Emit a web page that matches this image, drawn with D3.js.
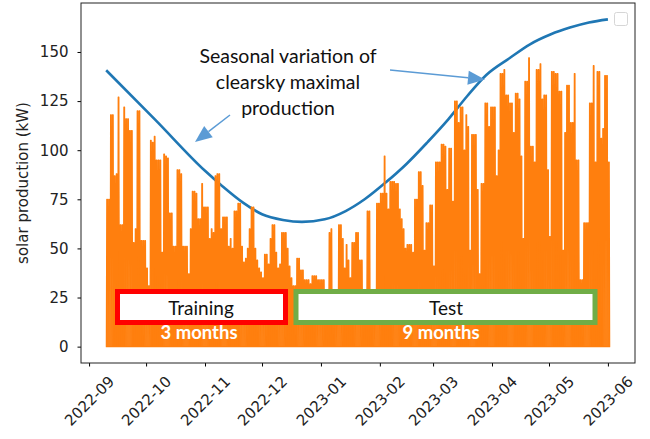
<!DOCTYPE html>
<html>
<head>
<meta charset="utf-8">
<title>solar production</title>
<script src="https://cdn.jsdelivr.net/npm/d3@7"></script>
<style>
  body { margin: 0; background: #fff; }
  svg { display: block; font-family: "DejaVu Sans", sans-serif; }
</style>
</head>
<body>
<svg id="chart" width="650" height="439"></svg>
<script>
// daily peak of the measured production (kW), one value per day starting at firstDay
var firstDay = "2022-09-10";
var dailyPeak = [
  75, 75, 118, 118, 87, 88, 127, 62, 62, 122,
  116, 116, 110, 110, 53, 60, 120, 120, 54, 54,
  54, 40, 31, 105, 104, 107, 95, 95, 95, 48,
  98, 97, 96, 68, 68, 51, 51, 90, 90, 88,
  51, 51, 51, 37, 60, 79, 79, 78, 65, 65,
  83, 71, 71, 71, 55, 60, 58, 87, 88, 88,
  60, 66, 66, 66, 51, 55, 50, 69, 69, 73,
  73, 51, 43, 45, 50, 60, 71, 71, 50, 44,
  40, 38, 35, 47, 47, 42, 55, 62, 62, 48,
  40, 42, 58, 58, 58, 50, 41, 35, 31, 31,
  45, 45, 39, 39, 34, 34, 34, 32, 36, 36,
  36, 34, 34, 34, 34, 29, 29, 58, 60, 29,
  29, 29, 62, 62, 55, 40, 52, 44, 35, 53,
  53, 58, 58, 44, 44, 29, 29, 69, 69, 29,
  29, 29, 73, 73, 78, 78, 97, 78, 70, 84,
  84, 84, 83, 83, 70, 65, 60, 50, 52, 52,
  52, 48, 75, 75, 89, 89, 82, 49, 63, 63,
  72, 72, 41, 94, 94, 94, 103, 103, 102, 80,
  101, 101, 74, 125, 125, 114, 122, 122, 100, 118,
  112, 49, 108, 108, 108, 80, 37, 83, 83, 124,
  124, 112, 122, 122, 122, 87, 100, 139, 139, 141,
  128, 128, 124, 124, 109, 129, 129, 126, 97, 55,
  135, 135, 147, 102, 102, 94, 141, 141, 144, 126,
  128, 128, 90, 56, 140, 140, 139, 139, 130, 130,
  49, 109, 133, 133, 114, 114, 139, 95, 95, 34,
  34, 63, 63, 63, 124, 124, 143, 94, 140, 140,
  106, 111, 138, 138, 94
];

// clearsky maximal production
var clearskyDates = ["2022-09-10", "2022-10-06", "2022-11-01", "2022-11-10", "2022-11-21",
  "2022-12-01", "2022-12-12", "2022-12-22", "2023-01-03", "2023-01-14", "2023-01-24",
  "2023-02-04", "2023-02-15", "2023-02-26", "2023-03-09", "2023-03-19", "2023-03-29",
  "2023-04-10", "2023-04-21", "2023-05-02", "2023-05-12", "2023-05-22", "2023-06-01"];
var clearskyValues = [140.7, 115.3, 89.5, 81.8, 73.3, 67.4, 64.5, 63.5, 64.8, 69, 75,
  83.5, 93, 104, 115.7, 127.6, 138.3, 146.7, 153.9, 159, 162.4, 165, 166.6];

var monthTicks = ["2022-09", "2022-10", "2022-11", "2022-12", "2023-01", "2023-02",
  "2023-03", "2023-04", "2023-05", "2023-06"];
var yTicks = [0, 25, 50, 75, 100, 125, 150];

var noteLines = ["Seasonal variation of", "clearsky maximal", "production"];
var splitNames = ["Training", "Test"];
var splitLengths = ["3 months", "9 months"];

var orange = "#ff7f0e", blue = "#1f77b4", arrowBlue = "#5b9bd5";

// plot frame
var plotLeft = 81, plotRight = 635, plotTop = 3, plotBottom = 363;

var parseDay = d3.utcParse("%Y-%m-%d");
var parseMonth = d3.utcParse("%Y-%m");

var start = parseDay(firstDay);
var end = d3.utcDay.offset(start, dailyPeak.length);
var pad = (end - start) * 0.05;

var x = d3.scaleUtc()
  .domain([new Date(+start - pad), new Date(+end + pad)])
  .range([plotLeft, plotRight]);

var yMax = 166.6;
var y = d3.scaleLinear()
  .domain([-yMax * 0.05, yMax * 1.05])
  .range([plotBottom, plotTop]);

var svg = d3.select("#chart");

// clearsky line
var clearPts = clearskyDates.map(function(d, i) {
  return { t: parseDay(d), v: clearskyValues[i] };
});
svg.append("path")
  .datum(clearPts)
  .attr("fill", "none")
  .attr("stroke", blue)
  .attr("stroke-width", 2.6)
  .attr("d", d3.line()
    .x(function(d) { return x(d.t); })
    .y(function(d) { return y(d.v); })
    .curve(d3.curveMonotoneX));

// production: night at 0, rise in the morning, plateau around noon, back to 0
var prodPts = [];
dailyPeak.forEach(function(p, i) {
  var t0 = d3.utcDay.offset(start, i);
  prodPts.push({ t: d3.utcHour.offset(t0, 2), v: 0 });
  prodPts.push({ t: d3.utcHour.offset(t0, 8), v: p });
  prodPts.push({ t: d3.utcHour.offset(t0, 16), v: p });
  prodPts.push({ t: d3.utcHour.offset(t0, 22), v: 0 });
});

svg.append("path")
  .datum(prodPts)
  .attr("fill", orange)
  .attr("stroke", orange)
  .attr("stroke-width", 1.2)
  .attr("stroke-linejoin", "round")
  .attr("d", d3.area()
    .x(function(d) { return x(d.t); })
    .y0(y(0))
    .y1(function(d) { return y(d.v); }));

// axes
var xAxis = svg.append("g")
  .attr("transform", "translate(0," + plotBottom + ")")
  .call(d3.axisBottom(x)
    .tickValues(monthTicks.map(parseMonth))
    .tickFormat(d3.utcFormat("%Y-%m"))
    .tickSize(3.5));
xAxis.select(".domain").remove();
xAxis.selectAll("text")
  .attr("y", null)
  .attr("dy", null)
  .attr("dominant-baseline", "central")
  .attr("transform", "translate(0,38) rotate(-45)")
  .attr("font-size", 15)
  .attr("font-family", "DejaVu Sans")
  .attr("fill", "#222");

var yAxis = svg.append("g")
  .attr("transform", "translate(" + plotLeft + ",0)")
  .call(d3.axisLeft(y)
    .tickValues(yTicks)
    .tickSize(3.5)
    .tickPadding(9));
yAxis.select(".domain").remove();
yAxis.selectAll("text")
  .attr("font-size", 15)
  .attr("font-family", "DejaVu Sans")
  .attr("fill", "#222");

svg.append("rect")
  .attr("x", plotLeft).attr("y", plotTop)
  .attr("width", plotRight - plotLeft).attr("height", plotBottom - plotTop)
  .attr("fill", "none")
  .attr("stroke", "#222")
  .attr("stroke-width", 1);

svg.append("text")
  .attr("transform", "translate(28," + ((plotTop + plotBottom) / 2) + ") rotate(-90)")
  .attr("text-anchor", "middle")
  .attr("font-size", 15)
  .attr("fill", "#222")
  .text("solar production (kW)");

// empty legend box
svg.append("rect")
  .attr("x", 614.5).attr("y", 12.5)
  .attr("width", 13).attr("height", 13)
  .attr("rx", 2)
  .attr("fill", "#fff")
  .attr("stroke", "#d6d6d6");

// annotation
var note = svg.append("text")
  .attr("font-family", "Lato, sans-serif")
  .attr("font-size", 19.5)
  .attr("fill", "#111")
  .attr("text-anchor", "middle");
noteLines.forEach(function(s, i) {
  note.append("tspan").attr("x", 288).attr("y", 63 + i * 26).text(s);
});

function arrow(x1, y1, x2, y2) {
  var a = Math.atan2(y2 - y1, x2 - x1);
  var len = 17, half = 7;
  var bx = x2 - len * Math.cos(a), by = y2 - len * Math.sin(a);
  svg.append("line")
    .attr("x1", x1).attr("y1", y1).attr("x2", bx).attr("y2", by)
    .attr("stroke", arrowBlue).attr("stroke-width", 1.5);
  var px = -Math.sin(a) * half, py = Math.cos(a) * half;
  svg.append("path")
    .attr("d", "M" + x2 + "," + y2 + "L" + (bx + px) + "," + (by + py) + "L" + (bx - px) + "," + (by - py) + "Z")
    .attr("fill", arrowBlue);
}
arrow(230, 115, 195, 142);
arrow(390, 70, 485, 79.5);

// training / test boxes
var boxes = [
  { x0: 117.5, x1: 285.5, color: "#ff0000", tx: 201, mx: 199 },
  { x0: 296, x1: 595, color: "#70ad47", tx: 446, mx: 441 }
];
boxes.forEach(function(b, i) {
  svg.append("rect")
    .attr("x", b.x0).attr("y", 291.5)
    .attr("width", b.x1 - b.x0).attr("height", 31)
    .attr("fill", "#fff")
    .attr("stroke", b.color)
    .attr("stroke-width", 5);
  svg.append("text")
    .attr("x", b.tx).attr("y", 315)
    .attr("text-anchor", "middle")
    .attr("font-family", "Lato, sans-serif")
    .attr("font-size", 19)
    .attr("fill", "#111")
    .text(splitNames[i]);
  svg.append("text")
    .attr("x", b.mx).attr("y", 339)
    .attr("text-anchor", "middle")
    .attr("font-family", "Lato, sans-serif")
    .attr("font-weight", "bold")
    .attr("font-size", 18.5)
    .attr("fill", "#fff")
    .text(splitLengths[i]);
});
</script>
</body>
</html>
